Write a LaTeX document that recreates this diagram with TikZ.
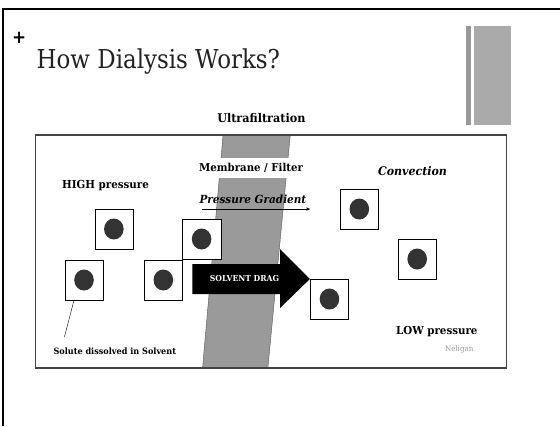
\documentclass[tikz,border=0pt]{standalone}
\usepackage{fontspec}
\setmainfont{DejaVu Serif}
\newfontfamily\plusfont{DejaVu Sans}
\usetikzlibrary{arrows,positioning,calc}
\definecolor{bardark}{HTML}{999999}
\definecolor{barlight}{HTML}{AAAAAA}
\definecolor{bandgray}{HTML}{9A9A9A}
\definecolor{bandedge}{HTML}{555555}
\definecolor{panelgray}{HTML}{444444}
\definecolor{dotgray}{HTML}{333333}
\definecolor{titlegray}{HTML}{222222}
\definecolor{notegray}{HTML}{999999}

\begin{document}
\begin{tikzpicture}[x=1pt, y=-1pt, xscale=0.9333, transform shape, >=stealth', semithick]
\tikzstyle{solute}=[draw=black, thin, fill=white, minimum width=41pt, minimum height=40pt, inner sep=0pt,
  path picture={\fill[dotgray] (path picture bounding box.center) circle (10.5pt);}]
\tikzstyle{label}=[font=\bfseries\fontsize{11}{13}\selectfont, inner sep=0pt]
\useasboundingbox (0,0) rectangle (600,426);
\fill[white] (0,0) rectangle (600,426);

% slide frame and side bars
\draw[line width=2.5pt] (3,426) -- (3,9) -- (600,9);
\fill[bardark]  (499,26) rectangle (505,125);
\fill[barlight] (508,26) rectangle (548,125);

% title
\node[font=\plusfont\bfseries\fontsize{18}{18}\selectfont, inner sep=0pt] (plus) at (20.5,38) {+};
\node[anchor=base west, inner sep=0pt, text=titlegray, font=\fontsize{26}{26}\selectfont] (title) at (39,68) {\scalebox{0.945}[1]{How Dialysis Works?}};

\node[label, font=\bfseries\fontsize{12}{14}\selectfont] (ultra) at (280,118) {Ultrafiltration};

% panel and membrane
\filldraw[fill=white, draw=panelgray, line width=1.2pt] (38,135) rectangle (543,368);
\filldraw[fill=bandgray, draw=bandedge, thin] (239,135) -- (311,135) -- (287,368) -- (217,368) -- cycle;
\draw[draw=panelgray, line width=1.2pt] (38,135) rectangle (543,368);

\node[label, fill=white, minimum height=20pt, inner xsep=2pt, font=\bfseries\fontsize{10.9}{13}\selectfont] (membrane) at (269,168) {Membrane / Filter};
\node[font=\bfseries\itshape\fontsize{11.2}{14}\selectfont, inner sep=0pt] (gradient) at (271,199) {Pressure Gradient};
\coordinate (gradstart) at (216,209);
\coordinate (gradend)   at (332,209);
\draw[->, thin] (gradstart) -- (gradend);

\node[label] (high) at (113,186) {HIGH pressure};
\node[label, font=\bfseries\itshape\fontsize{11.8}{13}\selectfont] (convection) at (442,171) {Convection};
\node[label] (low) at (468,332) {LOW pressure};
\node[text=notegray, font=\fontsize{7.6}{9}\selectfont, inner sep=0pt] (neligan) at (492,349) {Neligan};

% solvent drag arrow
\fill (206,264) -- (300,264) -- (300,249) -- (332,279) -- (300,308) -- (300,294) -- (206,294) -- cycle;
\node[text=white, font=\bfseries\fontsize{8.2}{9}\selectfont, inner sep=0pt] (drag) at (262,279) {SOLVENT DRAG};

% solutes
\node[solute] (s1) at (122,229) {};
\node[solute] (s2) at (216,239) {};
\node[solute] (s3) at (90,280) {};
\node[solute] (s4) at (175,280) {};
\node[solute] (s5) at (385,209) {};
\node[solute] (s6) at (447,259) {};
\node[solute] (s7) at (353,299) {};

\node[font=\bfseries\fontsize{8.7}{10}\selectfont, inner sep=0pt] (solute) at (123,351) {Solute dissolved in Solvent};
\coordinate (solutetip) at (69,337);
\draw[thin] ([xshift=10pt]s3.south west) -- (solutetip);
\end{tikzpicture}
\end{document}
